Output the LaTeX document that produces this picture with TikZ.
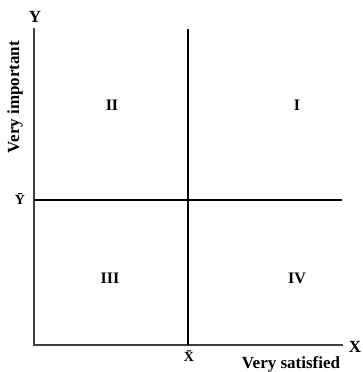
\documentclass[tikz,border=0pt]{standalone}
\usepackage{fontspec}
\setmainfont{Liberation Serif}
\begin{document}
\begin{tikzpicture}[x=1pt,y=-1pt,
  axis/.style={line width=1.8pt,draw=black!75},
  divider/.style={line width=1.2pt,draw=black},
  lbl/.style={inner sep=0pt,font=\fontsize{17}{19}\selectfont\bfseries},
  small/.style={inner sep=0pt,font=\fontsize{14}{16}\selectfont\bfseries},
  quad/.style={inner sep=0pt,font=\fontsize{16}{18}\selectfont\bfseries}]
\useasboundingbox (0,0) rectangle (363,372);
\coordinate (O) at (34,345);
\coordinate (ytop) at (34,29);
\coordinate (xend) at (342,345);
\coordinate (vtop) at (188,29);
\coordinate (vbot) at (188,345);
\coordinate (hl) at (34,200);
\coordinate (hr) at (342,200);
\draw[axis,line cap=rect] (ytop) -- (O) -- (xend);
\draw[divider] (vtop) -- (vbot);
\draw[divider] (hl) -- (hr);
\node[lbl] (ylab) at (35,17) {Y};
\node[lbl,rotate=90] (yimp) at (15,97) {Very important};
\node[small] (ybar) at (20,199) {\={Y}};
\node[small] (xbar) at (189,356) {\={X}};
\node[lbl] (xlab) at (355,347) {X};
\node[lbl,anchor=base] (xsat) at (291,368) {Very satisfied};
\node[quad] (q2) at (112,105) {II};
\node[quad] (q1) at (297,105) {I};
\node[quad] (q3) at (110,278) {III};
\node[quad] (q4) at (297,278) {IV};
\end{tikzpicture}
\end{document}
